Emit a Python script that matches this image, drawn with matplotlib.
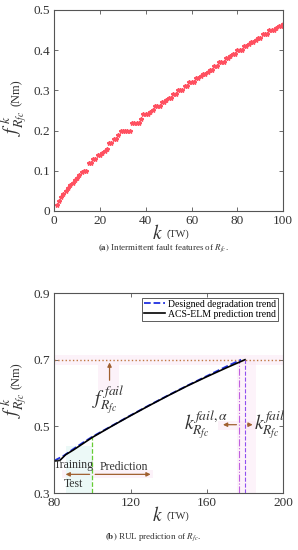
import matplotlib
matplotlib.use("Agg")
import matplotlib.pyplot as plt

plt.rcParams['font.family'] = ['Liberation Serif', 'DejaVu Serif']
plt.rcParams['mathtext.fontset'] = 'stix'

# (a) intermittent fault features, one value per time window
k_a = list(range(1, 101))
f_a = [0.015, 0.025, 0.034, 0.042, 0.050, 0.057, 0.064, 0.070, 0.077, 0.083,
       0.090, 0.096, 0.10, 0.10, 0.12, 0.12, 0.13, 0.13, 0.14, 0.14,
       0.145, 0.15, 0.155, 0.17, 0.17, 0.18, 0.18, 0.19, 0.20, 0.20,
       0.20, 0.20, 0.20, 0.22, 0.22, 0.22, 0.22, 0.23, 0.24, 0.24,
       0.24, 0.245, 0.25, 0.26, 0.26, 0.26, 0.27, 0.27, 0.275, 0.28,
       0.28, 0.29, 0.29, 0.30, 0.30, 0.30, 0.31, 0.31, 0.32, 0.32,
       0.32, 0.33, 0.33, 0.335, 0.34, 0.34, 0.345, 0.35, 0.35, 0.36,
       0.36, 0.37, 0.37, 0.37, 0.38, 0.38, 0.385, 0.39, 0.39, 0.40,
       0.40, 0.40, 0.41, 0.41, 0.415, 0.42, 0.42, 0.425, 0.43, 0.43,
       0.44, 0.44, 0.44, 0.45, 0.45, 0.45, 0.455, 0.46, 0.46, 0.465]

# (b) RUL prediction
k_design = [80, 85, 90, 95, 100, 110, 120, 130, 140, 150, 160, 170, 178]
f_design = [0.397, 0.412, 0.432, 0.451, 0.469, 0.501, 0.533, 0.564, 0.594, 0.623, 0.651, 0.679, 0.700]
k_pred = [80, 83, 86, 90, 95, 100, 110, 120, 130, 140, 150, 160, 170, 180]
f_pred = [0.396, 0.398, 0.415, 0.429, 0.448, 0.467, 0.500, 0.532, 0.563, 0.593, 0.622, 0.649, 0.675, 0.700]
f_fail = 0.7
k_split = 100
k_fail_a = 177
k_fail = 180

fig = plt.figure(figsize=(2.98, 5.5), dpi=100)
axcol = '#555555'
tcol = '#333333'


def style(ax):
    for s in ax.spines.values():
        s.set_color(axcol)
        s.set_linewidth(0.8)
    ax.tick_params(direction='in', top=True, right=True, length=3, width=0.6,
                   color=axcol, labelsize=9.5, labelcolor=tcol, pad=3)


def labels(ax):
    ax.text(-0.175, 0.5, r'$f^{\,k}_{R_{fc}}$', transform=ax.transAxes, rotation=90,
            fontsize=14, color=tcol, ha='center', va='top')
    ax.text(-0.165, 0.52, '(Nm)', transform=ax.transAxes, rotation=90,
            fontsize=9, color=tcol, ha='center', va='bottom')
    ax.text(0.475, -0.065, r'$k$', transform=ax.transAxes, fontsize=14, color=tcol,
            ha='right', va='top')
    ax.text(0.49, -0.09, '(TW)', transform=ax.transAxes, fontsize=7.5, color=tcol,
            ha='left', va='top')


# ---- top chart
ax1 = fig.add_axes([0.182, 0.6164, 0.768, 0.3655])
ax1.plot(k_a, f_a, linestyle='none', marker='*', markersize=3.2, color='#ff5060')
ax1.set_xlim(0, 100)
ax1.set_ylim(0, 0.5)
ax1.set_xticks([0, 20, 40, 60, 80, 100])
ax1.set_yticks([0, 0.1, 0.2, 0.3, 0.4, 0.5])
ax1.set_yticklabels(['0', '0.1', '0.2', '0.3', '0.4', '0.5'])
style(ax1)
labels(ax1)
fig.text(0.55, 0.549, r'$\mathbf{(a)}$ Intermittent fault features of $R_{fc}$.',
         fontsize=6.5, color=tcol, ha='center', va='center')

# ---- bottom chart
ax2 = fig.add_axes([0.182, 0.1036, 0.768, 0.3636])
pink = '#fbe6f4'
ax2.axhspan(0.685, 0.715, color=pink, alpha=0.5, lw=0)
ax2.fill_between([103, 114], 0.61, 0.685, color=pink, alpha=0.5, lw=0)
ax2.fill_between([176, 186], 0.3, 0.7, color=pink, alpha=0.45, lw=0)
ax2.fill_between([166, 186], 0.49, 0.515, color=pink, alpha=0.5, lw=0)
ax2.fill_between([84, 132], 0.345, 0.368, color=pink, alpha=0.5, lw=0)
ax2.fill_between([86, 100], 0.3, 0.44, color='#e8f8f6', alpha=0.8, lw=0)

ax2.axhline(f_fail, color='#c07840', linestyle=':', linewidth=1.0)
ax2.plot([k_split, k_split], [0.3, f_pred[5]], color='#66cc33', linestyle='--', linewidth=0.9)
ax2.plot([k_fail_a, k_fail_a], [0.3, f_fail], color='#c060e0', linestyle='-.', linewidth=0.8)
ax2.plot([k_fail, k_fail], [0.3, f_fail], color='#9050f0', linestyle='--', linewidth=0.8)

ax2.plot(k_design, f_design, color='#2030e0', linestyle='--', linewidth=1.3,
         label='Designed degradation trend')
ax2.plot(k_pred, f_pred, color='black', linestyle='-', linewidth=1.2,
         label='ACS-ELM prediction trend')

arrow = dict(arrowstyle='-|>', color='#a06030', lw=0.9, mutation_scale=6)
ax2.annotate('', xy=(109, f_fail), xytext=(109, 0.63), arrowprops=arrow)
ax2.annotate('', xy=(167, 0.505), xytext=(k_fail_a, 0.505), arrowprops=arrow)
ax2.annotate('', xy=(185.5, 0.505), xytext=(k_fail, 0.505), arrowprops=arrow)
ax2.annotate('', xy=(84.5, 0.356), xytext=(k_split, 0.356), arrowprops=arrow)
ax2.annotate('', xy=(132, 0.356), xytext=(k_split, 0.356), arrowprops=arrow)

ax2.text(108.5, 0.58, r'$f^{\,fail}_{R_{fc}}$', fontsize=14, color=tcol, ha='center', va='center')
ax2.text(159.5, 0.505, r'$k^{fail,\alpha}_{R_{fc}}$', fontsize=14, color=tcol, ha='center', va='center')
ax2.text(193, 0.505, r'$k^{fail}_{R_{fc}}$', fontsize=14, color=tcol, ha='center', va='center')
ax2.text(90.5, 0.366, 'Training', fontsize=8.5, color=tcol, ha='center', va='bottom')
ax2.text(90, 0.346, 'Test', fontsize=8.5, color=tcol, ha='center', va='top')
ax2.text(116.5, 0.359, 'Prediction', fontsize=8.5, color=tcol, ha='center', va='bottom')

ax2.set_xlim(80, 200)
ax2.set_ylim(0.3, 0.9)
ax2.set_xticks([80, 120, 160, 200])
ax2.set_yticks([0.3, 0.5, 0.7, 0.9])
style(ax2)
labels(ax2)
leg = ax2.legend(loc='upper right', fontsize=7, frameon=True, fancybox=False,
                 handlelength=2.2, handletextpad=0.3, borderpad=0.2,
                 labelspacing=0.1, borderaxespad=0.5)
leg.get_frame().set_edgecolor('#333333')
leg.get_frame().set_linewidth(0.7)
fig.text(0.515, 0.024, r'$\mathbf{(b)}$ RUL prediction of $R_{fc}$.',
         fontsize=6.5, color=tcol, ha='center', va='center')

fig.savefig('out.png', dpi=100)
